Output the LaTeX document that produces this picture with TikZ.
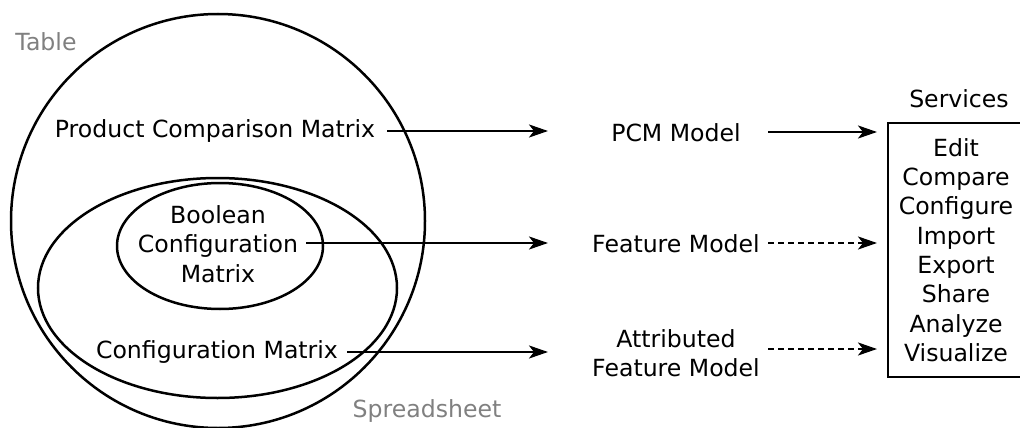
\documentclass[tikz,border=0pt]{standalone}
\usepackage{fontspec}
\setmainfont{DejaVu Sans}
\usetikzlibrary{arrows.meta}
\begin{document}
\begin{tikzpicture}[x=1pt,y=-1pt,
  every node/.style={font=\fontsize{23.6}{29.3}\selectfont, inner sep=0pt, align=center},
  graylbl/.style={text=black!50},
  setline/.style={line width=2.5pt},
  conn/.style={line width=2.5pt, -{Stealth[length=19pt,width=13pt,inset=5pt]}},
  dconn/.style={conn, dash pattern=on 6pt off 4pt}]
\useasboundingbox (0,0) rectangle (1020,428);
% sets
\draw[setline] (218,221) ellipse [x radius=207, y radius=207];
\draw[setline] (217.5,288) ellipse [x radius=179.5, y radius=110];
\draw[setline] (220,246) ellipse [x radius=103, y radius=63];
% labels
\node[graylbl] (table) at (46,42) {Table};
\node[graylbl] (spread) at (427,411) {Spreadsheet};
\node (pcm) at (215,131) {Product Comparison Matrix};
\node (bcm) at (218,244) {Boolean\\Configuration\\Matrix};
\node (cm) at (217,352) {Configuration Matrix};
% models
\node (pcmm) at (676,133) {PCM Model};
\node (fm) at (676,244) {Feature Model};
\node (afm) at (676,353) {Attributed\\Feature Model};
% services
\node (serv) at (959,99) {Services};
\draw[setline] (888,123) rectangle (1021,377);
\node (list) at (956,250) {Edit\\Compare\\Configure\\Import\\Export\\Share\\Analyze\\Visualize};
% coordinates
\coordinate (a1s) at (387,131); \coordinate (a1e) at (548,131);
\coordinate (a2s) at (306,243); \coordinate (a2e) at (548,243);
\coordinate (a3s) at (347,352); \coordinate (a3e) at (548,352);
\coordinate (b1s) at (768,132); \coordinate (b1e) at (877,132);
\coordinate (b2s) at (768,243); \coordinate (b2e) at (877,243);
\coordinate (b3s) at (768,349); \coordinate (b3e) at (877,349);
\draw[conn] (a1s) -- (a1e);
\draw[conn] (a2s) -- (a2e);
\draw[conn] (a3s) -- (a3e);
\draw[conn] (b1s) -- (b1e);
\draw[dconn] (b2s) -- (b2e);
\draw[dconn] (b3s) -- (b3e);
\end{tikzpicture}
\end{document}
